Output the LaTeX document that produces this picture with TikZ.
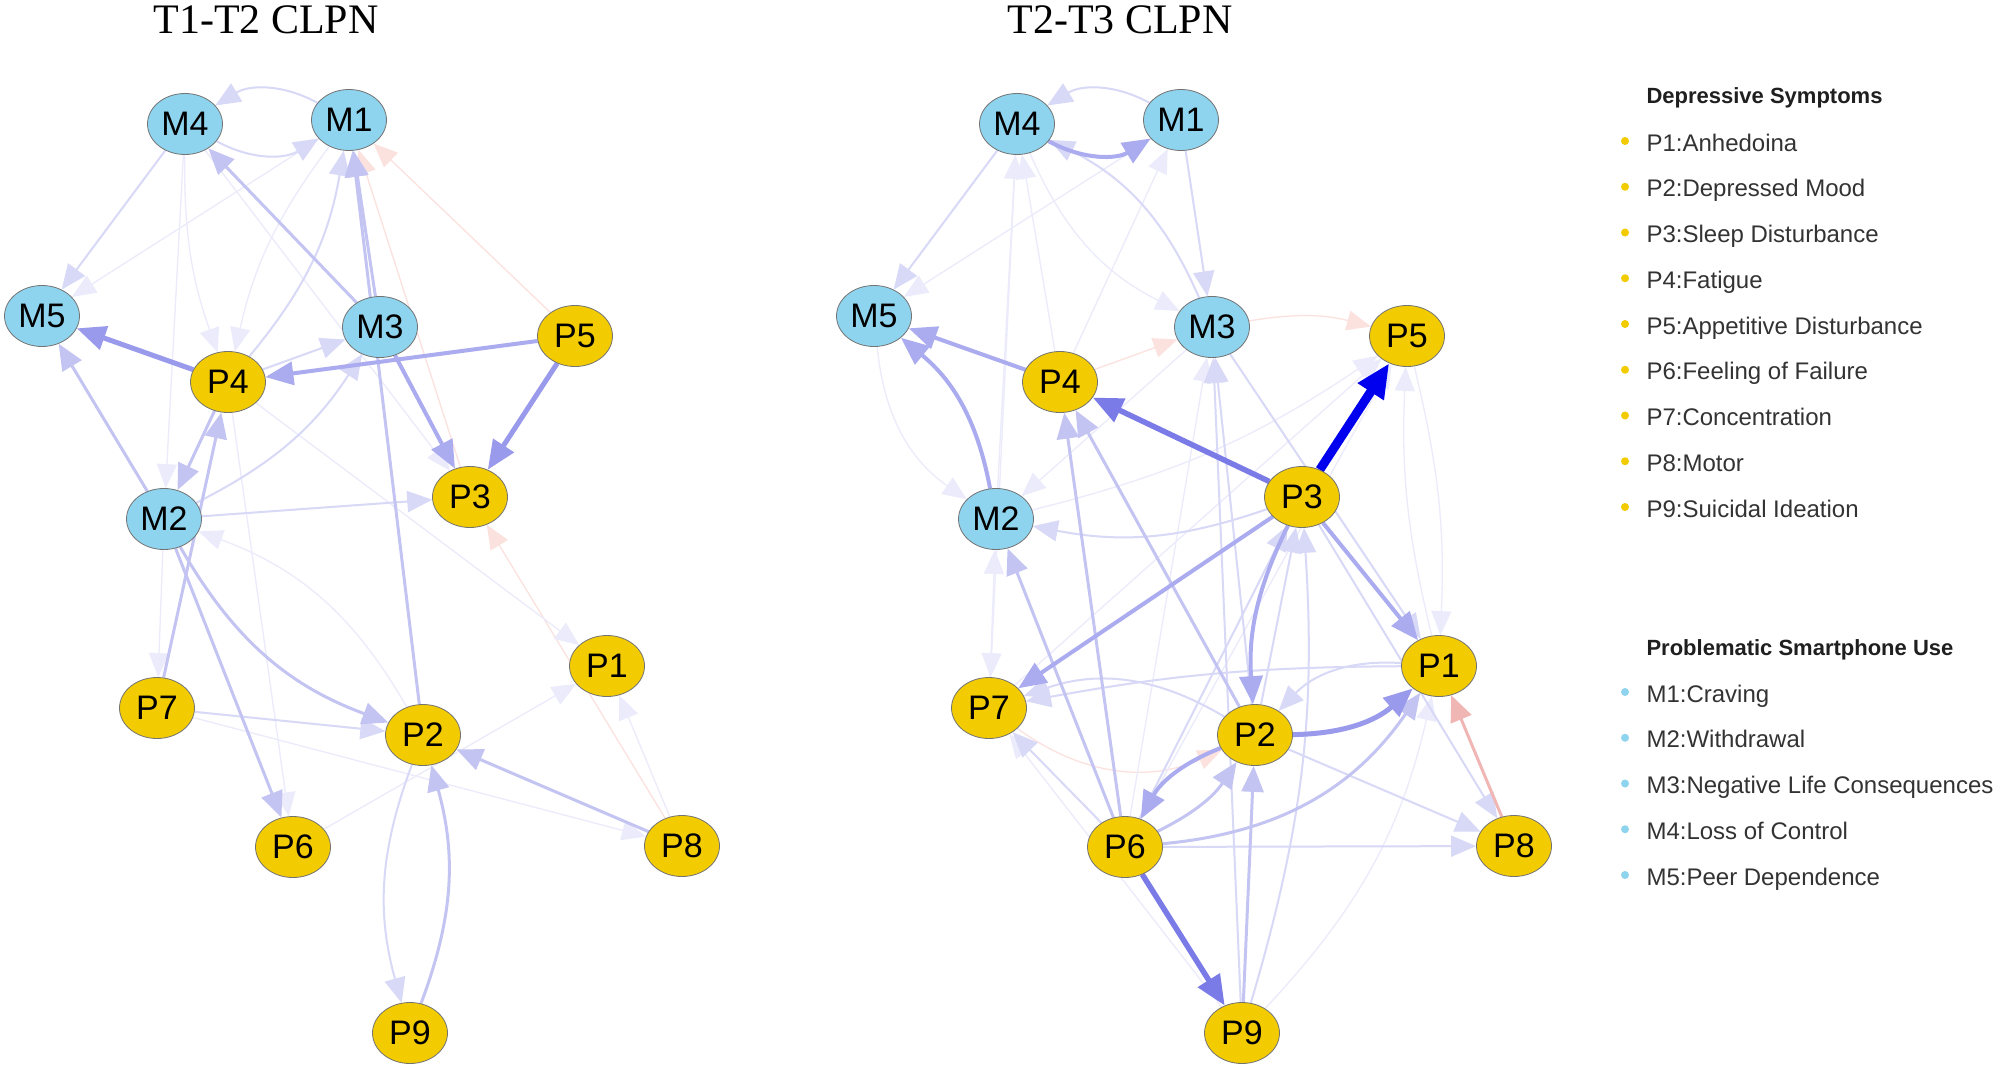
\documentclass[tikz,border=0pt]{standalone}
\usepackage{fontspec}
\setmainfont{Liberation Sans}
\newfontfamily\titlefont{Liberation Serif}
\usetikzlibrary{shapes.geometric,arrows.meta}
\pgfdeclarelayer{bg}
\pgfsetlayers{bg,main}
\definecolor{mfill}{HTML}{8FD4EE}
\definecolor{pfill}{HTML}{F2CB00}
\definecolor{ca}{HTML}{EBEBFB}
\definecolor{cb}{HTML}{D8D8F7}
\definecolor{cc}{HTML}{C4C4F3}
\definecolor{cd}{HTML}{ABABEF}
\definecolor{cdd}{HTML}{9A9AED}
\definecolor{ce}{HTML}{7B7BE8}
\definecolor{cf}{HTML}{0000EE}
\definecolor{ra}{HTML}{FBE2DE}
\definecolor{rb}{HTML}{F0B6B4}
\definecolor{legtext}{HTML}{333333}
\tikzset{
  mn/.style={ellipse, draw=black!55, line width=0.8pt, fill=mfill, minimum width=75pt, minimum height=61pt, inner sep=0pt, font=\fontsize{34}{34}\selectfont},
  pn/.style={mn, fill=pfill},
  e1/.style={draw=ca, line width=1.3pt, -{Triangle[length=24pt,width=20pt]}},
  e2/.style={draw=cb, line width=2pt, -{Triangle[length=25pt,width=21pt]}},
  e3/.style={draw=cc, line width=3pt, -{Triangle[length=26pt,width=22pt]}},
  e4/.style={draw=cd, line width=4pt, -{Triangle[length=28pt,width=23pt]}},
  e45/.style={draw=cdd, line width=5pt, -{Triangle[length=29pt,width=24pt]}},
  e5/.style={draw=ce, line width=5.5pt, -{Triangle[length=30pt,width=25pt]}},
  e6/.style={draw=cf, line width=9pt, -{Triangle[length=34pt,width=29pt]}},
  r1/.style={draw=ra, line width=1.3pt, -{Triangle[length=24pt,width=20pt]}},
  r2/.style={draw=rb, line width=3pt, -{Triangle[length=26pt,width=22pt]}},
  ttl/.style={anchor=base, font=\titlefont\fontsize{42}{42}\selectfont},
  leghead/.style={anchor=base west, font=\bfseries\fontsize{22}{24}\selectfont, text=black!88},
  legitem/.style={anchor=base west, font=\fontsize{24}{24}\selectfont, text=legtext}
}
\begin{document}
\begin{tikzpicture}[x=1pt,y=-1pt]
\useasboundingbox (0,0) rectangle (2008,1068);

\node[ttl] (t1) at (266,34) {T1-T2 CLPN};
\node[ttl] (t2) at (1120,34) {T2-T3 CLPN};

\foreach \n/\x/\y in {M4/185/124, M1/349/120, M5/42/316, M3/380/327, M2/164/519}{
  \node[mn] (a\n) at (\x,\y) {\n};
  \node[mn] (b\n) at (\x+832,\y) {\n};
}
\foreach \n/\x/\y in {P5/575/336, P4/228/382, P3/470/497, P1/607/666, P7/157/708, P2/423/735, P6/293/847, P8/682/846, P9/410/1033}{
  \node[pn] (a\n) at (\x,\y) {\n};
  \node[pn] (b\n) at (\x+832,\y) {\n};
}

\begin{pgfonlayer}{bg}
\fill[white] (0,0) rectangle (2008,1068);
% ---------- T1-T2 ----------
\draw[e1] (aM1) -- (aM5);
\draw[e1] (aM4) to[bend right=10] (aP4);
\draw[e1] (aM1) to[bend right=12] (aP4);
\draw[e1] (aM4) -- (aM2);
\draw[e1] (aM4) -- (aP3);
\draw[r1] (aP5) -- (aM1);
\draw[r1] (aP3) -- (aM1);
\draw[r1] (aP8) -- (aP3);
\draw[e1] (aP4) -- (aP1);
\draw[e1] (aM2) -- (aP7);
\draw[e1] (aP4) -- (aP6);
\draw[e1] (aP2) to[bend right=20] (aM2);
\draw[e1] (aP7) -- (aP8);
\draw[e1] (aP6) -- (aP1);
\draw[e1] (aP8) -- (aP1);
\draw[e2] (aM1) to[bend right=30] (aM4);
\draw[e2] (aM4) to[bend right=30] (aM1);
\draw[e2] (aM4) -- (aM5);
\draw[e2] (aP4) to[bend right=15] (aM1);
\draw[e2] (aP4) -- (aM3);
\draw[e2] (aM2) to[bend right=15] (aM3);
\draw[e2] (aM2) -- (aP3);
\draw[e2] (aP7) -- (aP2);
\draw[e2] (aP2) to[bend right=18] (aP9);
\draw[e3] (aM3) -- (aM4);
\draw[e3] (aM3) -- (aM1);
\draw[e3] (aP2) -- (aM1);
\draw[e3] (aM2) -- (aM5);
\draw[e3] (aP4) -- (aM2);
\draw[e3] (aP7) -- (aP4);
\draw[e3] (aM2) to[bend right=20] (aP2);
\draw[e3] (aM2) -- (aP6);
\draw[e3] (aP8) -- (aP2);
\draw[e3] (aP9) to[bend right=18] (aP2);
\draw[e4] (aP5) -- (aP4);
\draw[e4] (aM3) -- (aP3);
\draw[e45] (aP4) -- (aM5);
\draw[e45] (aP5) -- (aP3);
% ---------- T2-T3 ----------
\draw[e1] (bM1) -- (bM5);
\draw[e1] (bM4) to[bend right=20] (bM3);
\draw[e1] (bM2) -- (bM4);
\draw[e1] (bP4) -- (bM4);
\draw[e1] (bP4) -- (bM1);
\draw[e1] (bM5) to[bend right=25] (bM2);
\draw[r1] (bM3) to[bend left=12] (bP5);
\draw[r1] (bP4) -- (bM3);
\draw[r1] (bP7) to[bend right=30] (bP2);
\draw[e1] (bM2) to[bend right=10] (bP5);
\draw[e1] (bP6) -- (bP5);
\draw[e1] (bP7) -- (bP5);
\draw[e1] (bP7) -- (bM2);
\draw[e1] (bP9) to[bend right=15] (bP1);
\draw[e1] (bP1) to[bend left=8] (bP5);
\draw[e1] (bP5) to[bend left=8] (bP1);
\draw[e1] (bM3) -- (bM2);
\draw[e1] (bM4) -- (bP7);
\draw[e1] (bP6) -- (bM3);
\draw[e1] (bP9) -- (bP7);
\draw[e2] (bM1) to[bend right=30] (bM4);
\draw[e2] (bM4) -- (bM5);
\draw[e2] (bM1) -- (bM3);
\draw[e2] (bM3) to[bend right=20] (bM4);
\draw[e2] (bP3) to[bend left=15] (bM2);
\draw[e2] (bP3) -- (bP8);
\draw[e2] (bP1) to[bend right=5] (bP7);
\draw[e2] (bP2) to[bend right=25] (bP7);
\draw[e2] (bP1) to[bend right=25] (bP2);
\draw[e2] (bP6) -- (bP8);
\draw[e2] (bP2) -- (bP8);
\draw[e2] (bP6) -- (bP7);
\draw[e2] (bP9) to[bend right=10] (bP3);
\draw[e2] (bP6) -- (bP3);
\draw[e2] (bP2) -- (bP3);
\draw[e2] (bP2) -- (bM3);
\draw[e2] (bM3) -- (bP1);
\draw[e2] (bP9) -- (bM3);
\draw[e3] (bP6) -- (bP4);
\draw[e3] (bP2) -- (bP4);
\draw[e3] (bP6) -- (bM2);
\draw[e3] (bP6) to[bend right=25] (bP1);
\draw[e3] (bP6) to[bend right=15] (bP2);
\draw[e3] (bP9) -- (bP2);
\draw[r2] (bP8) -- (bP1);
\draw[e4] (bM4) to[bend right=30] (bM1);
\draw[e4] (bP4) -- (bM5);
\draw[e4] (bM2) to[bend right=20] (bM5);
\draw[e4] (bP3) -- (bP7);
\draw[e4] (bP3) to[bend right=15] (bP2);
\draw[e4] (bP3) -- (bP1);
\draw[e45] (bP2) to[bend right=20] (bP1);
\draw[e4] (bP2) to[bend right=20] (bP6);
\draw[e5] (bP3) -- (bP4);
\draw[e5] (bP6) -- (bP9);
\draw[e6] (bP3) -- (bP5);
\end{pgfonlayer}

% ---------- legend ----------
\node[leghead] (h1) at (1643,103) {Depressive Symptoms};
\foreach \t [count=\i from 0] in {P1:Anhedoina, P2:Depressed Mood, P3:Sleep Disturbance, P4:Fatigue, P5:Appetitive Disturbance, P6:Feeling of Failure, P7:Concentration, P8:Motor, P9:Suicidal Ideation}{
  \fill[pfill] (1625,151+45.75*\i-10) circle (4);
  \node[legitem] (d\i) at (1643,151+45.75*\i) {\t};
}
\node[leghead] (h2) at (1643,655) {Problematic Smartphone Use};
\foreach \t [count=\i from 0] in {M1:Craving, M2:Withdrawal, M3:Negative Life Consequences, M4:Loss of Control, M5:Peer Dependence}{
  \fill[mfill] (1625,702+45.75*\i-10) circle (4);
  \node[legitem] (s\i) at (1643,702+45.75*\i) {\t};
}
\end{tikzpicture}
\end{document}
